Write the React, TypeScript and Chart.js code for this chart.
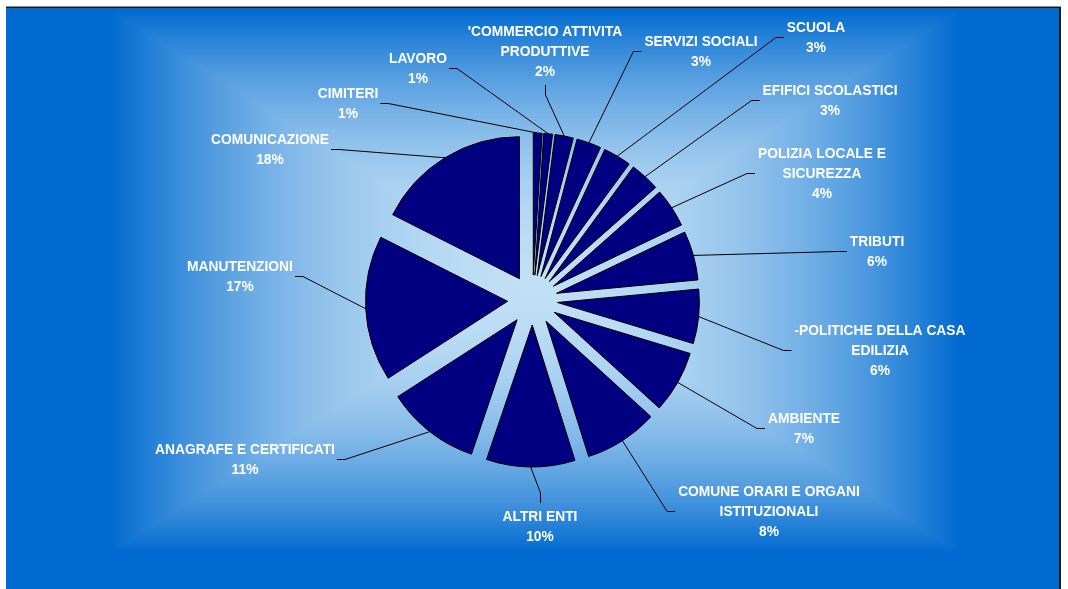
import React, { useEffect, useRef } from 'react';
import { Chart, registerables } from 'chart.js';

Chart.register(...registerables);

// ---- data (clockwise from 12 o'clock) ----
const categories: string[] = [
  'CIMITERI',
  'LAVORO',
  "'COMMERCIO ATTIVITA\nPRODUTTIVE",
  'SERVIZI SOCIALI',
  'SCUOLA',
  'EFIFICI SCOLASTICI',
  'POLIZIA LOCALE E\nSICUREZZA',
  'TRIBUTI',
  '-POLITICHE DELLA CASA\nEDILIZIA',
  'AMBIENTE',
  'COMUNE ORARI E ORGANI\nISTITUZIONALI',
  'ALTRI ENTI',
  'ANAGRAFE E CERTIFICATI',
  'MANUTENZIONI',
  'COMUNICAZIONE',
];
const values: number[] = [1.0, 1.0, 2.1, 2.8, 3.2, 3.4, 4.45, 5.6, 6.2, 7.1, 8.4, 10.1, 10.7, 16.6, 17.6];

// ---- layout (label block centres, canvas px) ----
const labelCenters: Array<[number, number]> = [
  [348, 103],
  [418, 67.5],
  [545, 51],
  [701, 51],
  [816, 37],
  [830, 100],
  [822, 173],
  [877, 251],
  [880, 350],
  [804, 428],
  [769, 511],
  [540, 526],
  [245, 459],
  [240, 275.5],
  [270, 148.5],
];

const W = 1068;
const H = 589;
const EXPLODE = 25;
const PIE_RADIUS = 142;
const LINE_H = 20;
const FONT = 'bold 15px "Liberation Sans", Arial, Helvetica, sans-serif';
const TEXT_SX = 0.92;
const CAP_MID = 5.4;

const PANEL = { x0: 6, x1: 1060, y0: 7, y1: 589 };
const GRAD = { cx: 535, cy: 281, hw: 425, hh: 272 };
const LIGHT = [193, 223, 245];
const DARK = [0, 106, 208];

function buildBackground(): HTMLCanvasElement {
  const c = document.createElement('canvas');
  c.width = W;
  c.height = H;
  const g = c.getContext('2d')!;
  g.fillStyle = '#ffffff';
  g.fillRect(0, 0, W, H);
  const w = PANEL.x1 - PANEL.x0;
  const h = PANEL.y1 - PANEL.y0;
  const img = g.createImageData(w, h);
  const d = img.data;
  for (let j = 0; j < h; j++) {
    const y = PANEL.y0 + j + 0.5;
    const ty = Math.abs(y - GRAD.cy) / GRAD.hh;
    for (let i = 0; i < w; i++) {
      const x = PANEL.x0 + i + 0.5;
      const tx = Math.abs(x - GRAD.cx) / GRAD.hw;
      const t = Math.min(1, Math.max(tx, ty));
      const f = t * t;
      const k = (j * w + i) * 4;
      d[k] = LIGHT[0] + (DARK[0] - LIGHT[0]) * f;
      d[k + 1] = LIGHT[1] + (DARK[1] - LIGHT[1]) * f;
      d[k + 2] = LIGHT[2] + (DARK[2] - LIGHT[2]) * f;
      d[k + 3] = 255;
    }
  }
  g.putImageData(img, PANEL.x0, PANEL.y0);
  g.fillStyle = '#1a1a1a';
  g.fillRect(PANEL.x0, PANEL.y0 - 0.5, PANEL.x1 - PANEL.x0 + 1, 1.5);
  g.fillRect(PANEL.x1 - 1, PANEL.y0, 2, PANEL.y1 - PANEL.y0);
  return c;
}

export default function App() {
  const ref = useRef<HTMLCanvasElement>(null);

  useEffect(() => {
    const canvas = ref.current;
    if (!canvas) return;
    const bg = buildBackground();
    const total = values.reduce((a, b) => a + b, 0);

    const bgPlugin = {
      id: 'bgPanel',
      beforeDraw(chart: any) {
        const ctx = chart.ctx as CanvasRenderingContext2D;
        ctx.save();
        ctx.drawImage(bg, 0, 0);
        ctx.restore();
      },
    };

    const explodePlugin = {
      id: 'explode',
      beforeDatasetDraw(chart: any, args: any) {
        const ctx = chart.ctx as CanvasRenderingContext2D;
        args.meta.data.forEach((arc: any) => {
          const p = arc.getProps(['startAngle', 'endAngle'], true);
          const mid = (p.startAngle + p.endAngle) / 2;
          ctx.save();
          ctx.translate(Math.cos(mid) * EXPLODE, Math.sin(mid) * EXPLODE);
          arc.draw(ctx, chart.chartArea);
          ctx.restore();
        });
        return false;
      },
    };

    const labelPlugin = {
      id: 'sliceLabels',
      afterDatasetsDraw(chart: any) {
        const ctx = chart.ctx as CanvasRenderingContext2D;
        const meta = chart.getDatasetMeta(0);
        ctx.save();
        ctx.font = FONT;
        meta.data.forEach((el: any, i: number) => {
          const p = el.getProps(['x', 'y', 'startAngle', 'endAngle', 'outerRadius'], true);
          const mid = (p.startAngle + p.endAngle) / 2;
          const r = p.outerRadius + EXPLODE;
          const px = p.x + Math.cos(mid) * r;
          const py = p.y + Math.sin(mid) * r;
          const pct = Math.round((values[i] / total) * 100) + '%';
          const lines = [...categories[i].split('\n'), pct];
          const bw = Math.max(...lines.map((l) => ctx.measureText(l).width)) * TEXT_SX;
          const [cx, cy] = labelCenters[i];
          const left = cx - bw / 2;
          const right = cx + bw / 2;
          const top = cy - (lines.length * LINE_H) / 2;
          const bottom = cy + (lines.length * LINE_H) / 2;
          let sx: number, sy: number, ex: number, ey: number;
          if (px >= left && px <= right) {
            sx = Math.round(cx) + 0.5;
            ex = sx;
            if (py > bottom) {
              sy = bottom + 4;
              ey = sy + 10;
            } else {
              sy = top - 3;
              ey = sy - 10;
            }
          } else if (px < left) {
            sy = Math.round(cy) + 0.5;
            ey = sy;
            sx = left - 3;
            ex = sx - 8;
          } else {
            sy = Math.round(cy) + 0.5;
            ey = sy;
            sx = right + 2;
            ex = sx + 8;
          }
          ctx.beginPath();
          ctx.moveTo(sx, sy);
          ctx.lineTo(ex, ey);
          ctx.lineTo(px, py);
          ctx.strokeStyle = '#000000';
          ctx.lineWidth = 1;
          ctx.stroke();

          ctx.fillStyle = '#ffffff';
          ctx.textAlign = 'center';
          ctx.textBaseline = 'alphabetic';
          lines.forEach((l, k) => {
            ctx.save();
            ctx.translate(cx, top + LINE_H / 2 + k * LINE_H + CAP_MID);
            ctx.scale(TEXT_SX, 1);
            ctx.fillText(l, 0, 0);
            ctx.restore();
          });
        });
        ctx.restore();
      },
    };

    const chart = new Chart(canvas, {
      type: 'pie',
      data: {
        labels: categories,
        datasets: [
          {
            data: values,
            backgroundColor: '#000080',
            borderColor: '#000000',
            borderWidth: 1,
            radius: PIE_RADIUS,
          } as any,
        ],
      },
      options: {
        responsive: false,
        animation: false,
        events: [],
        layout: { padding: { left: 0, right: 3, top: 11, bottom: 0 } },
        plugins: {
          legend: { display: false },
          tooltip: { enabled: false },
        },
      } as any,
      plugins: [bgPlugin, explodePlugin, labelPlugin],
    });

    return () => {
      chart.destroy();
    };
  }, []);

  return (
    <div style={{ position: 'absolute', left: 0, top: 0, width: W, height: H }}>
      <canvas ref={ref} width={W} height={H} style={{ display: 'block', width: W, height: H }} />
    </div>
  );
}
